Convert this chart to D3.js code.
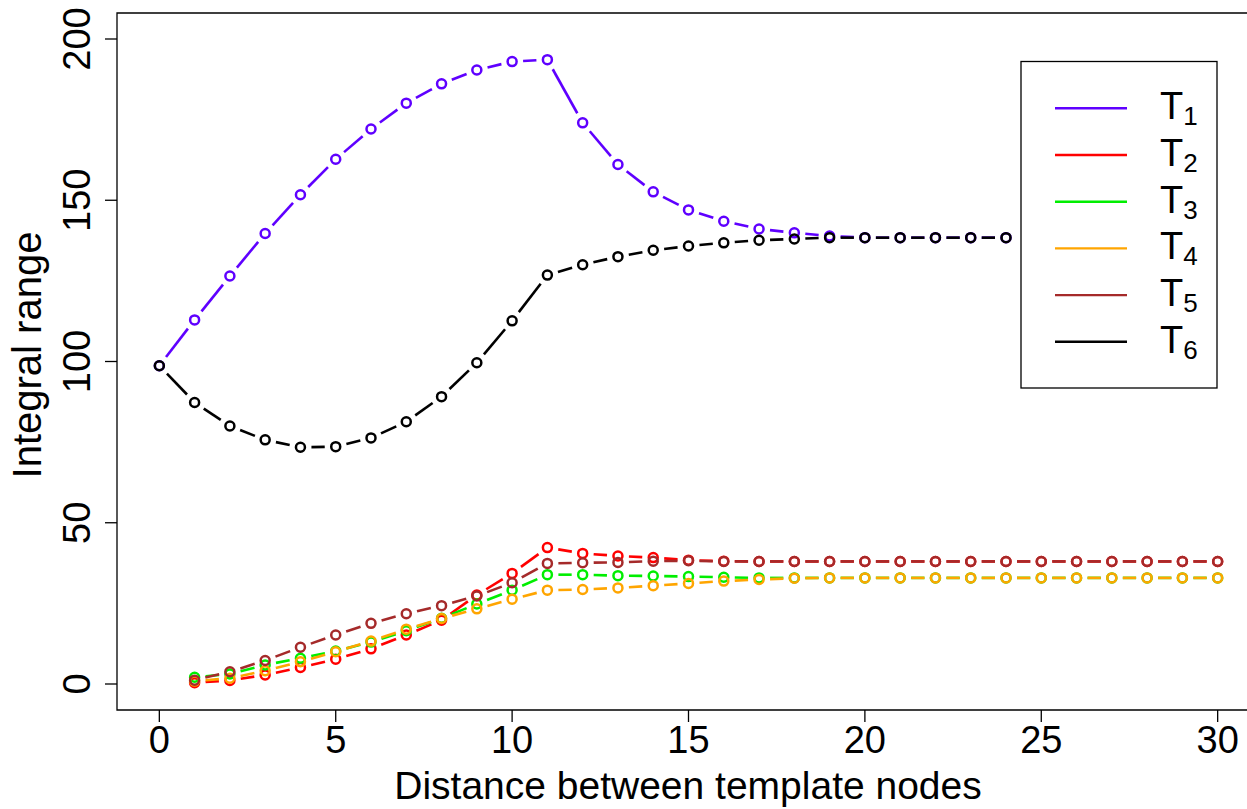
<!DOCTYPE html>
<html>
<head>
<meta charset="utf-8">
<script src="https://cdnjs.cloudflare.com/ajax/libs/d3/7.8.5/d3.min.js"></script>
<style>
  body { margin: 0; background: #fff; }
  text { font-family: "Liberation Sans", Arial, sans-serif; fill: #000; }
</style>
</head>
<body>
<script>
// distances (x values)
var distLong = [0,1,2,3,4,5,6,7,8,9,10,11,12,13,14,15,16,17,18,19,20,21,22,23,24];
var distShort = [1,2,3,4,5,6,7,8,9,10,11,12,13,14,15,16,17,18,19,20,21,22,23,24,25,26,27,28,29,30];

// integral range per template
var t1 = [98.7,112.9,126.5,139.7,151.7,162.7,172.1,180.1,186.1,190.4,193.0,193.6,174.0,161.1,152.6,147.0,143.5,141.1,139.9,138.9,138.4,138.4,138.4,138.4,138.4];
var t2 = [0.4,1.1,2.8,5.1,7.7,10.9,15.2,19.8,27.6,34.3,42.3,40.5,39.7,39.2,38.4,38.1,38.0,38.0,38.0,38.0,38.0,38.0,38.0,38.0,38.0,38.0,38.0,38.0,38.0,38.0];
var t3 = [2.1,3.1,5.9,8.0,10.2,13.0,16.5,20.4,24.8,29.1,33.9,33.9,33.6,33.5,33.3,33.1,32.9,32.9,32.9,32.9,32.9,32.9,32.9,32.9,32.9,32.9,32.9,32.9,32.9,32.9];
var t4 = [0.9,1.8,4.1,6.9,10.0,13.3,17.0,20.3,23.3,26.3,29.1,29.3,29.8,30.5,31.2,31.9,32.4,32.8,32.9,32.9,32.9,32.9,32.9,32.9,32.9,32.9,32.9,32.9,32.9,32.9];
var t5 = [1.2,3.8,7.3,11.4,15.2,18.8,21.8,24.3,27.3,31.4,37.4,37.6,37.7,38.1,38.2,38.0,38.0,38.0,38.0,38.0,38.0,38.0,38.0,38.0,38.0,38.0,38.0,38.0,38.0,38.0];
var t6 = [98.7,87.3,80.0,75.7,73.4,73.6,76.3,81.3,89.1,99.6,112.6,126.8,130.0,132.5,134.5,135.8,136.8,137.6,138.0,138.4,138.4,138.4,138.4,138.4,138.4];

var names = ["1","2","3","4","5","6"];
var colors = ["#5f00ff","#ff0000","#00ee00","#ffa500","#a52a2a","#000000"];
var xTicks = [0,5,10,15,20,25,30];
var yTicks = [0,50,100,150,200];

var main = function() {
  var width = 1247, height = 809;
  var box = {left: 117, top: 13, right: 1260, bottom: 710};

  var svg = d3.select("body").append("svg")
    .attr("width", width)
    .attr("height", height);

  var x = d3.scaleLinear().domain([-1.2, 31.2]).range([box.left, box.right]);
  var y = d3.scaleLinear().domain([0, 200]).range([684, 39]);

  var series = [
    {xs: distLong, ys: t1},
    {xs: distShort, ys: t2},
    {xs: distShort, ys: t3},
    {xs: distShort, ys: t4},
    {xs: distShort, ys: t5},
    {xs: distLong, ys: t6}
  ];

  // plot frame (right side is cut off in the picture)
  svg.append("path")
    .attr("d", "M" + width + "," + box.top + "H" + box.left + "V" + box.bottom + "H" + width)
    .attr("fill", "none")
    .attr("stroke", "#000")
    .attr("stroke-width", 1.3);

  // x axis
  var xAxis = svg.append("g");
  xAxis.selectAll("line").data(xTicks).enter().append("line")
    .attr("x1", function(d) { return x(d); })
    .attr("x2", function(d) { return x(d); })
    .attr("y1", box.bottom).attr("y2", box.bottom + 12)
    .attr("stroke", "#000").attr("stroke-width", 1.3);
  xAxis.selectAll("text").data(xTicks).enter().append("text")
    .attr("x", function(d) { return x(d); })
    .attr("y", 753)
    .attr("text-anchor", "middle")
    .style("font-size", "38px")
    .text(function(d) { return d; });

  // y axis
  var yAxis = svg.append("g");
  yAxis.selectAll("line").data(yTicks).enter().append("line")
    .attr("x1", box.left - 12).attr("x2", box.left)
    .attr("y1", function(d) { return y(d); })
    .attr("y2", function(d) { return y(d); })
    .attr("stroke", "#000").attr("stroke-width", 1.3);
  yAxis.selectAll("text").data(yTicks).enter().append("text")
    .attr("transform", function(d) { return "translate(90," + y(d) + ") rotate(-90)"; })
    .attr("text-anchor", "middle")
    .style("font-size", "38px")
    .text(function(d) { return d; });

  svg.append("text")
    .attr("x", 688)
    .attr("y", 799)
    .attr("text-anchor", "middle")
    .style("font-size", "39px")
    .text("Distance between template nodes");

  svg.append("text")
    .attr("transform", "translate(41,355) rotate(-90)")
    .attr("text-anchor", "middle")
    .style("font-size", "40px")
    .text("Integral range");

  // type="b" style: segments with gaps around the points
  var gap = 11;
  series.forEach(function(s, i) {
    var g = svg.append("g");
    var pts = s.xs.map(function(d, j) { return [x(d), y(s.ys[j])]; });
    var segs = [];
    for (var j = 0; j < pts.length - 1; j++) {
      var dx = pts[j+1][0] - pts[j][0], dy = pts[j+1][1] - pts[j][1];
      var len = Math.sqrt(dx * dx + dy * dy);
      if (len > 2 * gap) {
        var ux = dx / len, uy = dy / len;
        segs.push([pts[j][0] + ux * gap, pts[j][1] + uy * gap, pts[j+1][0] - ux * gap, pts[j+1][1] - uy * gap]);
      }
    }
    g.selectAll("line").data(segs).enter().append("line")
      .attr("x1", function(d) { return d[0]; })
      .attr("y1", function(d) { return d[1]; })
      .attr("x2", function(d) { return d[2]; })
      .attr("y2", function(d) { return d[3]; })
      .attr("stroke", colors[i])
      .attr("stroke-width", 2.6);
    g.selectAll("circle").data(pts).enter().append("circle")
      .attr("cx", function(d) { return d[0]; })
      .attr("cy", function(d) { return d[1]; })
      .attr("r", 4.5)
      .attr("fill", "none")
      .attr("stroke", colors[i])
      .attr("stroke-width", 2.5);
  });

  // legend
  var legend = svg.append("g");
  legend.append("rect")
    .attr("x", 1021).attr("y", 61.5)
    .attr("width", 196).attr("height", 326.5)
    .attr("fill", "#fff")
    .attr("stroke", "#000")
    .attr("stroke-width", 1.3);
  var item = legend.selectAll("g.item").data(names).enter().append("g")
    .attr("class", "item")
    .attr("transform", function(d, i) { return "translate(0," + (108.3 + i * 46.7) + ")"; });
  item.append("line")
    .attr("x1", 1055).attr("x2", 1127)
    .attr("y1", 0).attr("y2", 0)
    .attr("stroke", function(d, i) { return colors[i]; })
    .attr("stroke-width", 2.4);
  var lab = item.append("text")
    .attr("x", 1160)
    .attr("y", 11)
    .style("font-size", "38px");
  lab.append("tspan").text("T");
  lab.append("tspan")
    .attr("dy", 6)
    .style("font-size", "26px")
    .text(function(d) { return d; });
};

main();
</script>
</body>
</html>
